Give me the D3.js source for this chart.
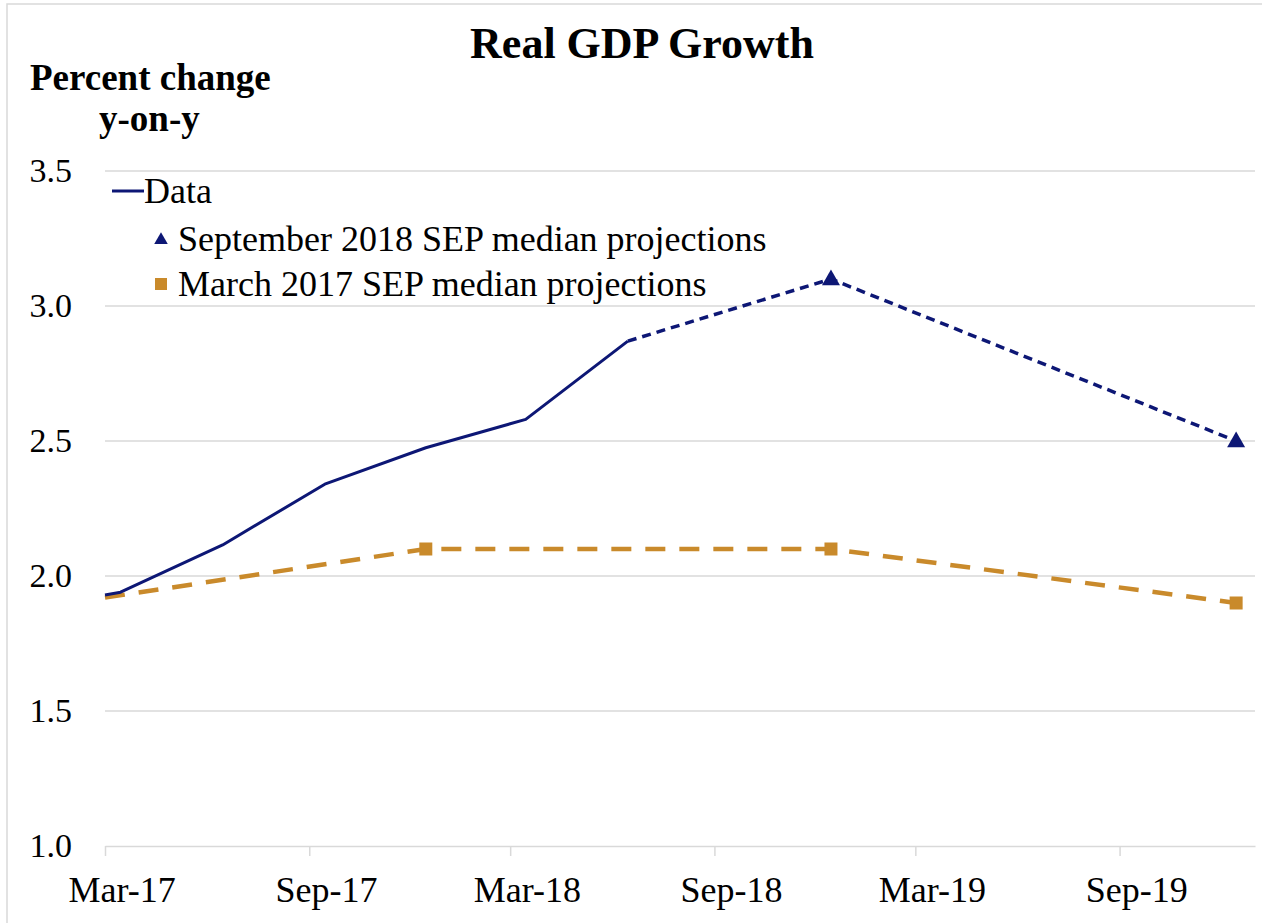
<!DOCTYPE html>
<html>
<head>
<meta charset="utf-8">
<script src="https://cdn.jsdelivr.net/npm/d3@7"></script>
<style>
  html, body { margin: 0; padding: 0; background: #fff; }
  svg { display: block; font-family: "Liberation Serif", "Times New Roman", serif; }
</style>
</head>
<body>
<svg id="chart" width="1262" height="923"></svg>
<script>
// ---- data ----
const dataDates   = ["2017-03-01", "2017-03-15", "2017-06-15", "2017-09-15", "2017-12-15", "2018-03-15", "2018-06-15"];
const dataValues  = [1.93, 1.94, 2.115, 2.34, 2.475, 2.58, 2.87];

const sep18Dates  = ["2018-06-15", "2018-12-15", "2019-12-15"];
const sep18Values = [2.87, 3.1, 2.5];
const sep18Marked = [false, true, true];

const mar17Dates  = ["2017-03-01", "2017-12-15", "2018-12-15", "2019-12-15"];
const mar17Values = [1.92, 2.1, 2.1, 1.9];
const mar17Marked = [false, true, true, true];

const xTickDates  = ["2017-03-01", "2017-09-01", "2018-03-01", "2018-09-01", "2019-03-01", "2019-09-01"];
const xTickLabels = ["Mar-17", "Sep-17", "Mar-18", "Sep-18", "Mar-19", "Sep-19"];
const yTicks      = [1.0, 1.5, 2.0, 2.5, 3.0, 3.5];

const legendLabels = ["Data", "September 2018 SEP median projections", "March 2017 SEP median projections"];

// ---- setup ----
const parse = d3.utcParse("%Y-%m-%d");
const svg = d3.select("#chart");
const navy = "#0d1775";
const gold = "#c98a2b";
const grid = "#d9d9d9";

svg.append("rect").attr("x", 7).attr("y", 4).attr("width", 1270).attr("height", 930)
  .attr("fill", "none").attr("stroke", grid).attr("stroke-width", 1.5);

const x = d3.scaleUtc().domain([parse("2017-03-01"), parse("2020-01-01")]).range([105, 1255]);
const y = d3.scaleLinear().domain([1, 3.5]).range([846, 171]);

// gridlines
svg.append("g").selectAll("line").data(yTicks.slice(1)).join("line")
  .attr("x1", 105).attr("x2", 1255)
  .attr("y1", d => y(d)).attr("y2", d => y(d))
  .attr("stroke", grid).attr("stroke-width", 1.5);

// y axis labels
const yAxis = d3.axisLeft(y).tickValues(yTicks).tickFormat(d3.format(".1f")).tickSize(0).tickPadding(0);
const gy = svg.append("g").attr("transform", "translate(72,0)").call(yAxis);
gy.select(".domain").remove();
gy.selectAll("text").attr("font-size", 34).attr("fill", "#000")
  .attr("font-family", "Liberation Serif").attr("dy", "0.32em");

// x axis
const tickDates = xTickDates.map(parse);
const xAxis = d3.axisBottom(x).tickValues(tickDates).tickFormat((d, i) => xTickLabels[i]).tickSizeInner(10).tickSizeOuter(0).tickPadding(20);
const gx = svg.append("g").attr("transform", `translate(0,${y(1)})`).call(xAxis);
gx.select(".domain").attr("stroke", grid).attr("stroke-width", 1.5);
gx.selectAll(".tick line").attr("stroke", grid).attr("stroke-width", 1.5);
const halfMonth = x(parse("2017-03-16")) - x(parse("2017-03-01"));
gx.selectAll("text").attr("font-size", 36).attr("fill", "#000")
  .attr("font-family", "Liberation Serif").attr("dx", halfMonth);

// lines
const line = d3.line().x(d => x(d.date)).y(d => y(d.value));

const mar17 = mar17Dates.map((d, i) => ({ date: parse(d), value: mar17Values[i], marked: mar17Marked[i] }));
const sep18 = sep18Dates.map((d, i) => ({ date: parse(d), value: sep18Values[i], marked: sep18Marked[i] }));
const dataPts = dataDates.map((d, i) => ({ date: parse(d), value: dataValues[i] }));

svg.append("path").datum(mar17).attr("d", line).attr("fill", "none")
  .attr("stroke", gold).attr("stroke-width", 4.5).attr("stroke-dasharray", "20,14");

svg.append("path").datum(sep18).attr("d", line).attr("fill", "none")
  .attr("stroke", navy).attr("stroke-width", 3.5).attr("stroke-dasharray", "9,6");

svg.append("path").datum(dataPts).attr("d", line).attr("fill", "none")
  .attr("stroke", navy).attr("stroke-width", 3).attr("stroke-linejoin", "round");

// markers
const tri = d3.symbol().type(d3.symbolTriangle).size(140);
svg.append("g").selectAll("path").data(sep18.filter(d => d.marked)).join("path")
  .attr("d", tri).attr("fill", navy)
  .attr("transform", d => `translate(${x(d.date)},${y(d.value) + 1})`);

svg.append("g").selectAll("rect").data(mar17.filter(d => d.marked)).join("rect")
  .attr("x", d => x(d.date) - 6.5).attr("y", d => y(d.value) - 6.5)
  .attr("width", 13).attr("height", 13).attr("fill", gold);

// title
svg.append("text").attr("x", 642).attr("y", 58).attr("text-anchor", "middle")
  .attr("font-size", 44).attr("font-weight", "bold").text("Real GDP Growth");

// y axis title
svg.append("text").attr("x", 30).attr("y", 90).attr("font-size", 37).attr("font-weight", "bold").text("Percent change");
svg.append("text").attr("x", 99).attr("y", 131).attr("font-size", 37).attr("font-weight", "bold").text("y-on-y");

// legend
const lg = svg.append("g");
lg.append("line").attr("x1", 112).attr("x2", 144).attr("y1", 191).attr("y2", 191)
  .attr("stroke", navy).attr("stroke-width", 3);
lg.append("text").attr("x", 144).attr("y", 203).attr("font-size", 36).text(legendLabels[0]);
lg.append("path").attr("d", d3.symbol().type(d3.symbolTriangle).size(80))
  .attr("transform", "translate(161,240)").attr("fill", navy);
lg.append("text").attr("x", 178).attr("y", 251).attr("font-size", 36).text(legendLabels[1]);
lg.append("rect").attr("x", 155).attr("y", 278).attr("width", 12).attr("height", 12).attr("fill", gold);
lg.append("text").attr("x", 178).attr("y", 296).attr("font-size", 36).text(legendLabels[2]);
</script>
</body>
</html>
